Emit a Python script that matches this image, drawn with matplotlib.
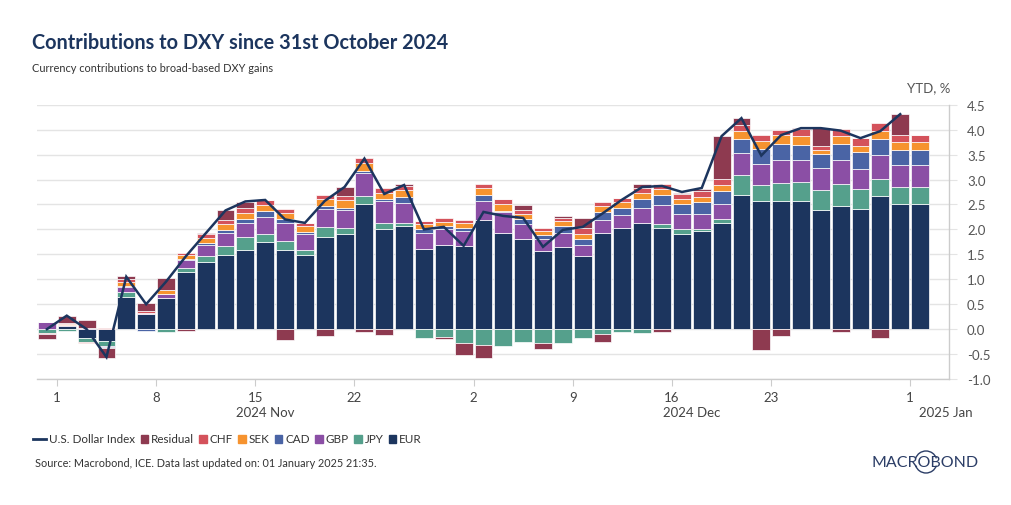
import matplotlib
matplotlib.use('Agg')
import matplotlib.pyplot as plt
import numpy as np
import pandas as pd
from matplotlib.lines import Line2D
from matplotlib.patches import Arc, Rectangle

plt.rcParams['font.family'] = ['Lato', 'DejaVu Sans']
plt.rcParams['axes.unicode_minus'] = False

dates = pd.bdate_range('2024-10-31', '2025-01-01')

EUR = [0.0, 0.055, -0.18, -0.23, 0.65, 0.30, 0.62, 1.15, 1.35, 1.49, 1.59, 1.75, 1.59, 1.49, 1.85,
       1.90, 2.50, 2.01, 2.07, 1.60, 1.68, 1.67, 2.19, 1.93, 1.81, 1.57, 1.65, 1.47, 1.93, 2.03,
       2.12, 2.03, 1.91, 1.96, 2.12, 2.68, 2.57, 2.57, 2.57, 2.39, 2.47, 2.40, 2.67, 2.50, 2.50]
JPY = [-0.08, -0.03, -0.08, -0.10, 0.10, 0.0, -0.06, 0.08, 0.12, 0.18, 0.26, 0.15, 0.18, 0.09, 0.20,
       0.12, 0.16, 0.12, 0.05, -0.17, -0.15, -0.27, -0.31, -0.33, -0.25, -0.28, -0.28, -0.18, -0.10, -0.05,
       -0.08, 0.07, 0.10, 0.04, 0.09, 0.41, 0.31, 0.35, 0.38, 0.39, 0.44, 0.41, 0.35, 0.35, 0.35]
GBP = [0.14, 0.03, 0.03, -0.03, 0.10, 0.03, 0.08, 0.16, 0.22, 0.26, 0.28, 0.35, 0.35, 0.32, 0.35,
       0.37, 0.47, 0.44, 0.41, 0.32, 0.33, 0.30, 0.38, 0.42, 0.29, 0.24, 0.27, 0.21, 0.26, 0.26,
       0.31, 0.38, 0.30, 0.30, 0.30, 0.44, 0.44, 0.47, 0.45, 0.45, 0.48, 0.40, 0.48, 0.44, 0.44]
CAD = [0.01, 0.0, 0.0, -0.01, 0.01, -0.03, 0.0, 0.01, 0.03, 0.05, 0.08, 0.12, 0.08, 0.05, 0.07,
       0.03, 0.04, 0.04, 0.12, 0.08, 0.05, 0.05, 0.11, 0.02, 0.10, 0.08, 0.15, 0.12, 0.16, 0.14,
       0.18, 0.20, 0.20, 0.25, 0.26, 0.29, 0.30, 0.32, 0.30, 0.29, 0.32, 0.34, 0.32, 0.30, 0.30]
SEK = [0.0, 0.02, 0.0, 0.01, 0.09, 0.0, 0.08, 0.08, 0.10, 0.12, 0.12, 0.12, 0.12, 0.12, 0.14,
       0.16, 0.17, 0.12, 0.13, 0.10, 0.09, 0.11, 0.14, 0.13, 0.10, 0.08, 0.10, 0.10, 0.12, 0.12,
       0.12, 0.12, 0.10, 0.10, 0.12, 0.15, 0.16, 0.19, 0.18, 0.08, 0.16, 0.13, 0.16, 0.16, 0.16]
CHF = [-0.01, 0.02, -0.02, 0.01, 0.05, 0.04, 0.0, 0.05, 0.08, 0.08, 0.09, 0.09, 0.08, 0.05, 0.08,
       0.09, 0.10, 0.09, 0.09, 0.07, 0.08, 0.05, 0.09, 0.10, 0.09, 0.05, 0.05, 0.13, 0.07, 0.08,
       0.09, 0.11, 0.10, 0.12, 0.12, 0.13, 0.11, 0.10, 0.14, 0.08, 0.15, 0.15, 0.15, 0.15, 0.14]
Residual = [-0.10, 0.13, 0.15, -0.20, 0.06, 0.15, 0.25, -0.03, 0.03, 0.20, 0.13, 0.0, -0.22, 0.0, -0.13,
            0.18, -0.05, -0.12, 0.03, 0.0, -0.04, -0.24, -0.26, 0.0, 0.09, -0.11, 0.04, 0.20, -0.15, 0.0,
            0.09, -0.05, 0.02, 0.04, 0.86, 0.13, -0.42, -0.13, 0.02, 0.35, -0.05, 0.0, -0.18, 0.41, 0.0]
DXY = [0.0, 0.27, 0.0, -0.56, 1.05, 0.50, 0.95, 1.46, 1.92, 2.38, 2.56, 2.59, 2.20, 2.13, 2.57,
       2.85, 3.42, 2.71, 2.89, 2.00, 2.05, 1.67, 2.35, 2.27, 2.23, 1.65, 1.99, 2.05, 2.32, 2.60,
       2.85, 2.87, 2.75, 2.83, 3.87, 4.23, 3.48, 3.89, 4.03, 4.03, 3.98, 3.83, 3.97, 4.31, np.nan]

series = [('EUR', EUR, '#1c355e'), ('JPY', JPY, '#55a08c'), ('GBP', GBP, '#8b4fa5'),
          ('CAD', CAD, '#4a64a5'), ('SEK', SEK, '#f6932f'), ('CHF', CHF, '#d4525b'),
          ('Residual', Residual, '#8e3a50')]
line_color = '#1c355e'
line_label = 'U.S. Dollar Index'

tick_days = ['2024-11-01', '2024-11-08', '2024-11-15', '2024-11-22', '2024-12-02',
             '2024-12-09', '2024-12-16', '2024-12-23', '2025-01-01']

W, H = 1012, 506
fig = plt.figure(figsize=(W / 100, H / 100), dpi=100)
ax = fig.add_axes([37 / W, (H - 380) / H, (949 - 37) / W, (380 - 105.7) / H])

x = np.arange(len(dates))
pos = np.zeros(len(x))
neg = np.zeros(len(x))
for name, vals, col in series:
    v = np.array(vals, dtype=float)
    bottom = np.where(v >= 0, pos, neg)
    ax.bar(x, v, width=0.9, bottom=bottom, color=col, edgecolor='white', linewidth=0.5, zorder=2)
    pos += np.where(v > 0, v, 0)
    neg += np.where(v < 0, v, 0)

ax.plot(x, DXY, color=line_color, lw=1.8, zorder=3, solid_joinstyle='miter')

ax.set_xlim(-0.5, 45.46)
ax.set_ylim(-1.0, 4.5)
yt = np.arange(-1.0, 4.51, 0.5)
ax.set_yticks(yt)
ax.set_yticklabels([f'{v:.1f}' for v in yt])
ax.yaxis.tick_right()
ax.grid(axis='y', color='#e4e4e4', lw=1, zorder=0)
ax.tick_params(axis='y', length=6, color='#e4e4e4', labelsize=9.5, labelcolor='#555555', pad=7)

idx = {d: i for i, d in enumerate(dates.strftime('%Y-%m-%d'))}
tpos = [idx[d] - 0.5 for d in tick_days]
ax.set_xticks(tpos)
ax.set_xticklabels([str(pd.Timestamp(d).day) for d in tick_days])
ax.tick_params(axis='x', length=5, color='#cccccc', labelsize=9.5, labelcolor='#444444', pad=4)

for s in ['top', 'left']:
    ax.spines[s].set_visible(False)
for s in ['right', 'bottom']:
    ax.spines[s].set_color('#cccccc')
    ax.spines[s].set_linewidth(1)

months = [('2024 Nov', (tpos[0] + tpos[4]) / 2), ('2024 Dec', (tpos[4] + tpos[8]) / 2)]
for lab, xp in months:
    ax.annotate(lab, xy=(xp, 0), xycoords=('data', 'axes fraction'), xytext=(0, -33),
                textcoords='offset pixels', ha='center', va='center', fontsize=9.5, color='#444444')
ax.annotate('2025 Jan', xy=(0.997, 0), xycoords='axes fraction', xytext=(0, -33),
            textcoords='offset pixels', ha='center', va='center', fontsize=9.5, color='#444444')

fig.text(950 / W, 1 - 88 / H, 'YTD, %', ha='right', va='center', fontsize=9.5, color='#555555')

fig.text(32 / W, 1 - 43 / H, 'Contributions to DXY since 31st October 2024', ha='left', va='center',
         fontsize=14.3, fontweight='bold', color='#1c355e')
fig.text(32 / W, 1 - 68 / H, 'Currency contributions to broad-based DXY gains', ha='left', va='center',
         fontsize=7.9, color='#333333')

# legend drawn manually
renderer = fig.canvas.get_renderer()
ly = 1 - 440 / H
cur = 33
fig.add_artist(Line2D([cur / W, (cur + 13) / W], [ly, ly], color=line_color, lw=2,
                      transform=fig.transFigure))
cur += 16
entries = [(line_label, None)] + [(n, c) for n, v, c in series[::-1]]
for i, (lab, col) in enumerate(entries):
    if col is not None:
        fig.add_artist(Rectangle(((cur) / W, ly - 3.6 / H), 7.3 / W, 7.3 / H, color=col,
                                 transform=fig.transFigure))
        cur += 10.3
    t = fig.text(cur / W, ly, lab, ha='left', va='center', fontsize=8.4, color='#333333')
    bb = t.get_window_extent(renderer)
    cur = bb.x1 + 5.5

fig.text(35 / W, 1 - 464 / H, 'Source: Macrobond, ICE. Data last updated on: 01 January 2025 21:35.',
         ha='left', va='center', fontsize=7.85, color='#333333')

fig.text(979 / W, 1 - 463 / H, 'MACROBOND', ha='right', va='center', fontsize=11.5, color='#2b3d66')
fig.add_artist(Arc((926 / W, 1 - 463 / H), 22 / W, 22 / H, theta1=35, theta2=145,
                   transform=fig.transFigure, lw=1, color='#2b3d66'))
fig.add_artist(Arc((926 / W, 1 - 463 / H), 22 / W, 22 / H, theta1=215, theta2=325,
                   transform=fig.transFigure, lw=1, color='#2b3d66'))

fig.savefig('out.png', dpi=100, facecolor='white')
